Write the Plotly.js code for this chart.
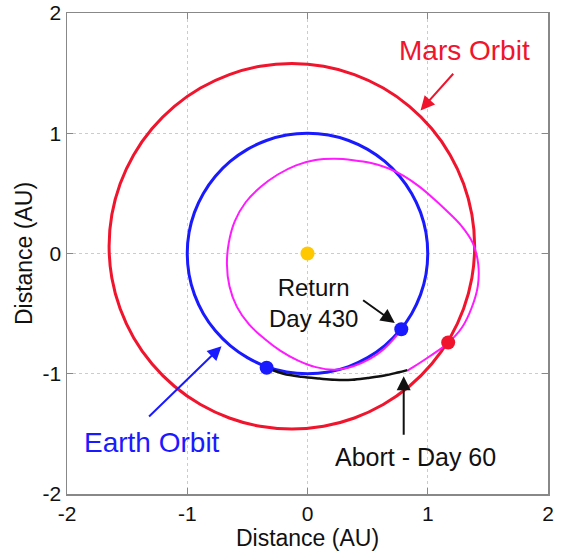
<!DOCTYPE html>
<html>
<head>
<meta charset="utf-8">
<script src="https://cdn.plot.ly/plotly-3.0.1.min.js"></script>
<style>
  html, body { margin: 0; padding: 0; background: #fff; }
  #chart { width: 562px; height: 552px; }
</style>
</head>
<body>
<div id="chart"></div>
<script>
// ---- Data (AU) ----
const earthOrbitX = [1, 0.985, 0.94, 0.866, 0.766, 0.643, 0.5, 0.342, 0.174, 0, -0.174, -0.342, -0.5, -0.643, -0.766, -0.866, -0.94, -0.985, -1, -0.985, -0.94, -0.866, -0.766, -0.643, -0.5, -0.342, -0.174, 0, 0.174, 0.342, 0.5, 0.643, 0.766, 0.866, 0.94, 0.985, 1];
const earthOrbitY = [0, 0.174, 0.342, 0.5, 0.643, 0.766, 0.866, 0.94, 0.985, 1, 0.985, 0.94, 0.866, 0.766, 0.643, 0.5, 0.342, 0.174, 0, -0.174, -0.342, -0.5, -0.643, -0.766, -0.866, -0.94, -0.985, -1, -0.985, -0.94, -0.866, -0.766, -0.643, -0.5, -0.342, -0.174, 0];

const marsOrbitX = [1.39, 1.367, 1.298, 1.186, 1.034, 0.847, 0.63, 0.39, 0.134, -0.13, -0.394, -0.65, -0.89, -1.107, -1.294, -1.446, -1.558, -1.627, -1.65, -1.627, -1.558, -1.446, -1.294, -1.107, -0.89, -0.65, -0.394, -0.13, 0.134, 0.39, 0.63, 0.847, 1.034, 1.186, 1.298, 1.367, 1.39];
const marsOrbitY = [0.06, 0.324, 0.58, 0.82, 1.037, 1.224, 1.376, 1.488, 1.557, 1.58, 1.557, 1.488, 1.376, 1.224, 1.037, 0.82, 0.58, 0.324, 0.06, -0.204, -0.46, -0.70, -0.917, -1.104, -1.256, -1.368, -1.437, -1.46, -1.437, -1.368, -1.256, -1.104, -0.917, -0.70, -0.46, -0.204, 0.06];

// return trajectory: from the abort point (day 60) round the Sun to Earth (day 430)
const returnPathX = [0.83, 0.875, 1.02, 1.164, 1.286, 1.366, 1.416, 1.42, 1.375, 1.275, 1.155, 1.04, 0.925, 0.803, 0.671, 0.529, 0.38, 0.225, 0.065, -0.095, -0.247, -0.388, -0.514, -0.605, -0.654, -0.67, -0.649, -0.588, -0.486, -0.358, -0.224, -0.082, 0.069, 0.225, 0.38, 0.519, 0.636, 0.73, 0.78];
const returnPathY = [-0.975, -0.947, -0.852, -0.748, -0.613, -0.449, -0.273, -0.09, 0.086, 0.236, 0.358, 0.464, 0.56, 0.643, 0.709, 0.752, 0.776, 0.787, 0.777, 0.733, 0.657, 0.555, 0.426, 0.268, 0.093, -0.09, -0.272, -0.442, -0.59, -0.709, -0.81, -0.889, -0.945, -0.966, -0.937, -0.877, -0.794, -0.696, -0.63];

// outbound transfer: Earth departure to the abort point
const transferPathX = [-0.34, -0.20, -0.05, 0.10, 0.225, 0.37, 0.50, 0.64, 0.75, 0.83];
const transferPathY = [-0.95, -1.00, -1.025, -1.04, -1.05, -1.05, -1.035, -1.015, -0.99, -0.97];

const sunX = [0];
const sunY = [0];
const earthDotsX = [-0.34, 0.78];
const earthDotsY = [-0.95, -0.63];
const marsDotX = [1.17];
const marsDotY = [-0.74];

const tickVals = [-2, -1, 0, 1, 2];
const tickText = ['-2', '-1', '0', '1', '2'];

const labelMars = 'Mars Orbit';
const labelEarth = 'Earth Orbit';
const labelReturn = 'Return<br>Day 430';
const labelAbort = 'Abort - Day 60';
const axisTitle = 'Distance (AU)';

// ---- Chart ----
const RED = '#f0142d', BLUE = '#1a1aff', MAG = '#ff1aff', SUN = '#ffc800';
const FONT = 'Liberation Sans, Arial, Helvetica, sans-serif';

function curve(x, y, color, width) {
  return {x: x, y: y, mode: 'lines', hoverinfo: 'skip',
    line: {color: color, width: width, shape: 'spline', smoothing: 1, simplify: false}};
}

const traces = [
  curve(marsOrbitX, marsOrbitY, RED, 3),
  curve(earthOrbitX, earthOrbitY, BLUE, 3),
  curve(returnPathX, returnPathY, MAG, 2),
  curve(transferPathX, transferPathY, '#111', 2.5),
  {x: sunX, y: sunY, mode: 'markers', marker: {color: SUN, size: 14}, hoverinfo: 'skip'},
  {x: earthDotsX, y: earthDotsY, mode: 'markers', marker: {color: BLUE, size: 14}, hoverinfo: 'skip'},
  {x: marsDotX, y: marsDotY, mode: 'markers', marker: {color: RED, size: 14}, hoverinfo: 'skip'}
];

function axis(standoff) {
  return {
    range: [-2, 2],
    tickvals: tickVals,
    ticktext: tickText,
    ticks: 'inside',
    ticklen: 6,
    tickcolor: '#888',
    showline: true,
    linecolor: '#888',
    linewidth: 1.5,
    mirror: 'ticks',
    showgrid: true,
    gridcolor: '#cccccc',
    griddash: 'dot',
    gridwidth: 1,
    zeroline: false,
    fixedrange: true,
    tickfont: {family: FONT, size: 21, color: '#111'},
    title: {text: axisTitle, standoff: standoff, font: {family: FONT, size: 23, color: '#111'}}
  };
}

function arrow(x, y, ax, ay, color) {
  return {x: x, y: y, ax: ax, ay: ay, xref: 'x', yref: 'y', axref: 'x', ayref: 'y',
    text: '', showarrow: true, arrowhead: 2, arrowsize: 1.4, arrowwidth: 2, arrowcolor: color};
}
function label(x, y, text, color, size) {
  return {x: x, y: y, xref: 'x', yref: 'y', text: text, showarrow: false,
    font: {family: FONT, size: size, color: color}, align: 'center'};
}

const layout = {
  width: 562, height: 552,
  margin: {l: 67, r: 14, t: 13, b: 58},
  paper_bgcolor: '#fff', plot_bgcolor: '#fff',
  showlegend: false,
  xaxis: axis(5),
  yaxis: axis(3),
  annotations: [
    label(1.305, 1.69, labelMars, RED, 28),
    arrow(0.94, 1.19, 1.223, 1.507, RED),
    label(-1.29, -1.57, labelEarth, BLUE, 28),
    arrow(-0.715, -0.771, -1.33, -1.367, BLUE),
    label(0.046, -0.41, labelReturn, '#111', 24),
    arrow(0.726, -0.577, 0.45, -0.38, '#111'),
    label(0.898, -1.69, labelAbort, '#111', 25),
    arrow(0.80, -1.02, 0.80, -1.52, '#111')
  ]
};

Plotly.newPlot('chart', traces, layout, {staticPlot: true, displayModeBar: false});
</script>
</body>
</html>
